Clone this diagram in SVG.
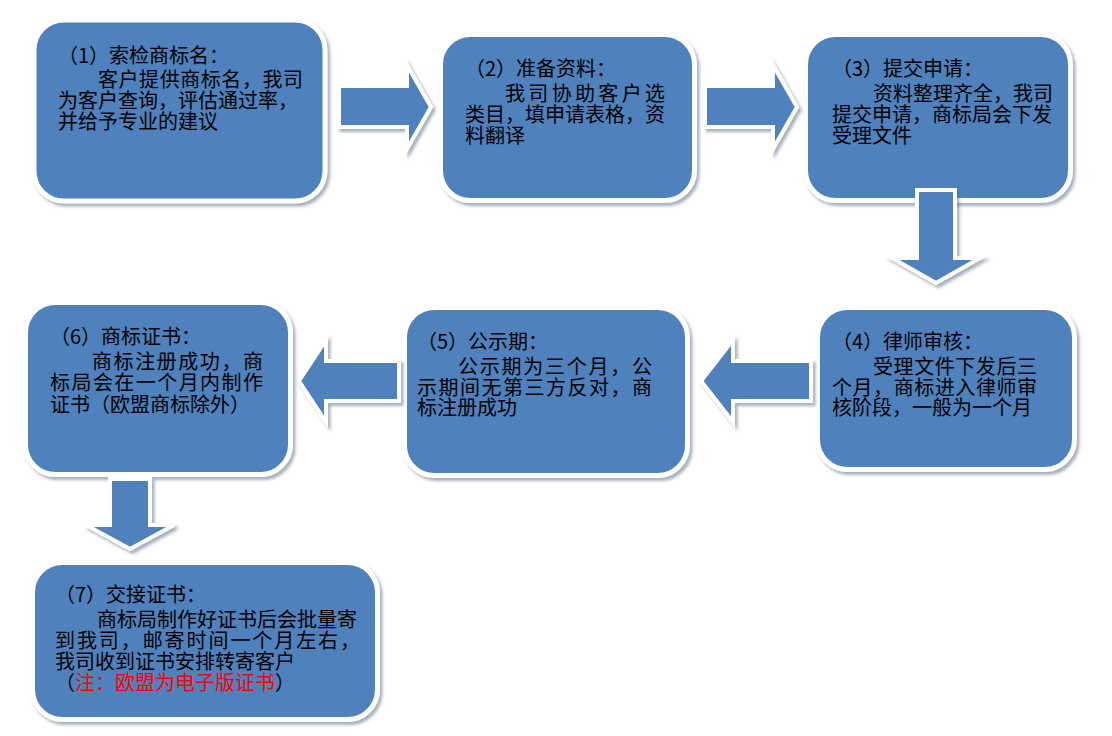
<svg xmlns="http://www.w3.org/2000/svg" width="1112" height="736" viewBox="0 0 1112 736">
<style>
.box{fill:#4F81BD;stroke:#fff;stroke-width:5;filter:url(#sh)}
.arr{fill:#4F81BD;stroke:#fff;stroke-width:4;stroke-linejoin:miter;filter:url(#sh)}
.t{font-family:"Noto Sans CJK SC","Noto Sans CJK TC",sans-serif;font-size:20px;fill:#000}
.red{fill:#FF0000}
</style>
<defs>
<filter id="sh" x="-10%" y="-10%" width="125%" height="125%">
<feDropShadow dx="2.5" dy="3" stdDeviation="1.5" flood-color="#5f6f8a" flood-opacity="0.55"/>
</filter>
</defs>
<rect width="1112" height="736" fill="#fff"/>
<g id="node1">
<rect class="box" x="34" y="20" width="291" height="181" rx="30"/>
<text class="t"><tspan x="58" y="63">（1）索检商标名：</tspan><tspan x="98" y="87" textLength="205" lengthAdjust="spacing">客户提供商标名，我司</tspan><tspan x="58" y="108">为客户查询，评估通过率，</tspan><tspan x="58" y="129">并给予专业的建议</tspan></text>
</g>
<g id="node2">
<rect class="box" x="440.5" y="34.5" width="254" height="166" rx="30"/>
<text class="t"><tspan x="465" y="76">（2）准备资料：</tspan><tspan x="505" y="101" textLength="160" lengthAdjust="spacing">我司协助客户选</tspan><tspan x="465" y="122">类目，填申请表格，资</tspan><tspan x="465" y="143">料翻译</tspan></text>
</g>
<g id="node3">
<rect class="box" x="805.5" y="34.5" width="265" height="166" rx="30"/>
<text class="t"><tspan x="832" y="76">（3）提交申请：</tspan><tspan x="873" y="101">资料整理齐全，我司</tspan><tspan x="832" y="122">提交申请，商标局会下发</tspan><tspan x="832" y="143">受理文件</tspan></text>
</g>
<g id="node4">
<rect class="box" x="817.5" y="307.5" width="257" height="162" rx="30"/>
<text class="t"><tspan x="832" y="349">（4）律师审核：</tspan><tspan x="873" y="374" textLength="164" lengthAdjust="spacing">受理文件下发后三</tspan><tspan x="832" y="395" textLength="205" lengthAdjust="spacing">个月，商标进入律师审</tspan><tspan x="832" y="415">核阶段，一般为一个月</tspan></text>
</g>
<g id="node5">
<rect class="box" x="404.5" y="307.5" width="283" height="168" rx="30"/>
<text class="t"><tspan x="417" y="349">（5）公示期：</tspan><tspan x="458" y="374" textLength="194" lengthAdjust="spacing">公示期为三个月，公</tspan><tspan x="417" y="395" textLength="235" lengthAdjust="spacing">示期间无第三方反对，商</tspan><tspan x="417" y="415">标注册成功</tspan></text>
</g>
<g id="node6">
<rect class="box" x="25.5" y="302.5" width="265" height="172" rx="30"/>
<text class="t"><tspan x="50" y="344">（6）商标证书：</tspan><tspan x="92" y="369" textLength="171" lengthAdjust="spacing">商标注册成功，商</tspan><tspan x="50" y="390" textLength="213" lengthAdjust="spacing">标局会在一个月内制作</tspan><tspan x="50" y="412">证书（欧盟商标除外）</tspan></text>
</g>
<g id="node7">
<rect class="box" x="32.5" y="562.5" width="345" height="157" rx="30"/>
<text class="t"><tspan x="55" y="602">（7）交接证书：</tspan><tspan x="97" y="627">商标局制作好证书后会批量寄</tspan><tspan x="55" y="648" textLength="305" lengthAdjust="spacing">到我司，邮寄时间一个月左右，</tspan><tspan x="55" y="669">我司收到证书安排转寄客户</tspan><tspan x="55" y="690">（</tspan><tspan class="red">注：欧盟为电子版证书</tspan><tspan>）</tspan></text>
</g>
<g id="connectors">
<polygon class="arr" points="339,86 407,86 407,65 431,107 407,149 407,127 339,127"/>
<polygon class="arr" points="705,86 773,86 773,65 797,107 773,149 773,127 705,127"/>
<polygon class="arr" points="917,190 955,190 955,258 980,258 936,283 892,258 917,258"/>
<polygon class="arr" points="811,361 733,361 733,340 701,381 733,422 733,401 811,401"/>
<polygon class="arr" points="399,361 326,361 326,340 299,381 326,422 326,401 399,401"/>
<polygon class="arr" points="110,479 150,479 150,525 174,525 130,549 86,525 110,525"/>
</g>
</svg>
